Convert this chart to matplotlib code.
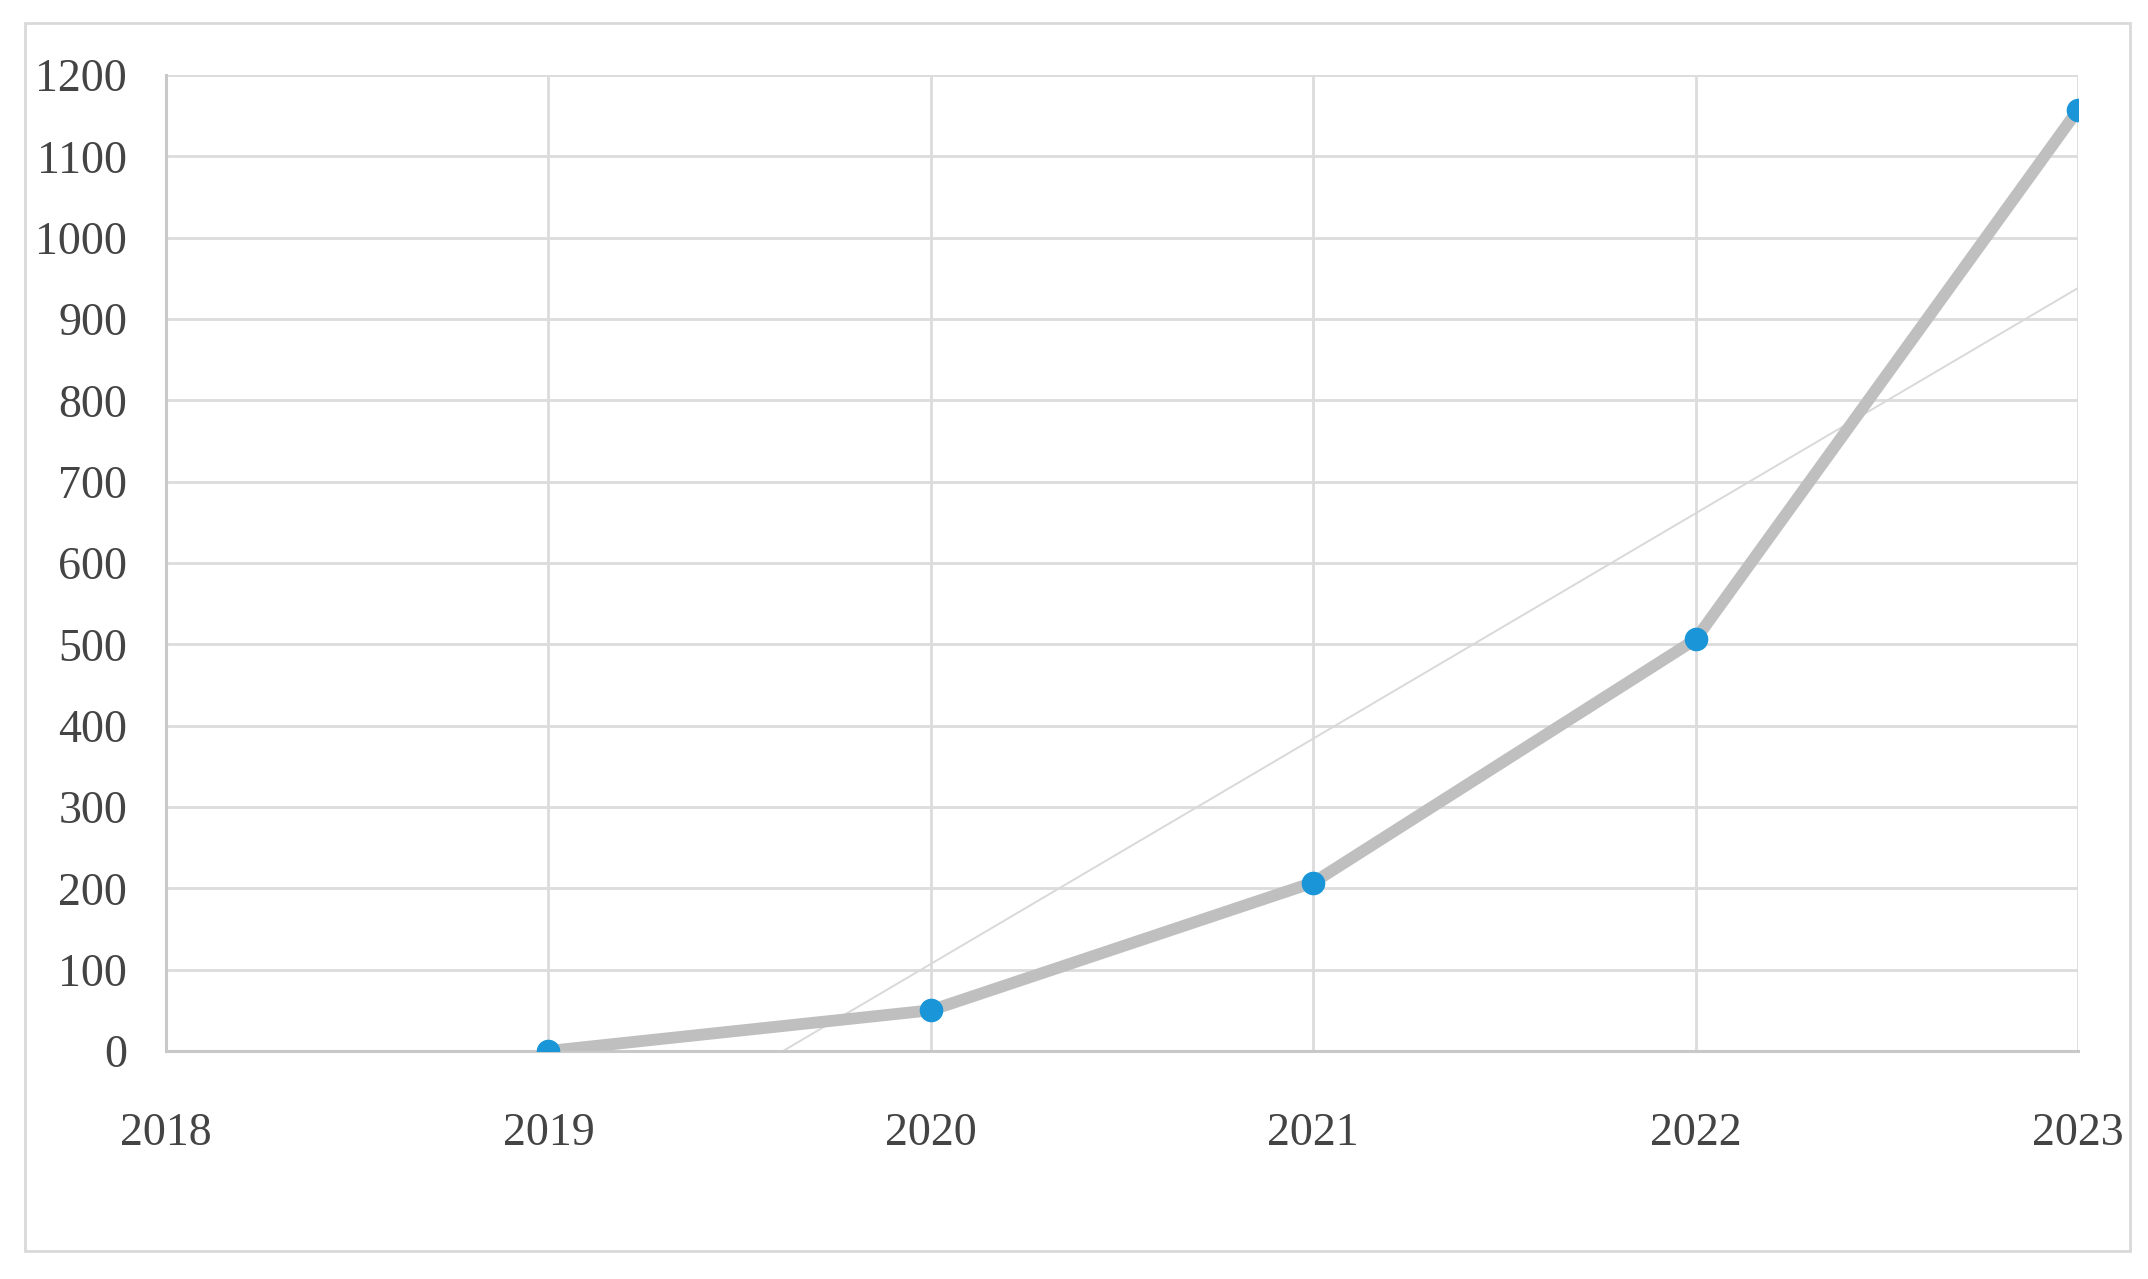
import numpy as np
from matplotlib import pyplot as plt
from matplotlib.patches import Rectangle

years = [2019, 2020, 2021, 2022, 2023]
values = [0, 50, 207, 506, 1157]
x_ticks = [2018, 2019, 2020, 2021, 2022, 2023]
y_ticks = list(range(0, 1300, 100))


def main():
    plt.rcParams['font.family'] = ['Liberation Serif', 'DejaVu Serif']
    fig = plt.figure(figsize=(21.48, 12.79), dpi=100)
    ax = fig.add_axes([0.0773, 0.1783, 0.8901, 0.7631])

    # outer chart border
    fig.patches.append(Rectangle((0.0116, 0.022), 0.9798, 0.960, transform=fig.transFigure,
                                 fill=False, edgecolor='#d9d9d9', linewidth=2))

    # linear trend line, starts where it crosses zero
    k, b = np.polyfit(years, values, 1)
    x0 = -b / k
    tx = np.array([x0, years[-1]])
    ax.plot(tx, k * tx + b, color='#d9d9d9', linewidth=1.4, zorder=2)

    ax.plot(years, values, color='#bfbfbf', linewidth=8.5, solid_capstyle='round', zorder=3)
    ax.plot(years, values, 'o', color='#1a96d8', markersize=16, zorder=4)

    ax.set_xlim(2018, 2023)
    ax.set_ylim(0, 1200)
    ax.set_xticks(x_ticks)
    ax.set_yticks(y_ticks)
    ax.grid(True, color='#dcdcdc', linewidth=2)
    ax.set_axisbelow(True)
    for s in ['top', 'right']:
        ax.spines[s].set_visible(False)
    for s in ['left', 'bottom']:
        ax.spines[s].set_color('#c8c8c8')
        ax.spines[s].set_linewidth(2.2)
    ax.tick_params(axis='y', length=0, pad=28, labelsize=33, labelcolor='#444444')
    ax.tick_params(axis='x', length=0, pad=44, labelsize=33, labelcolor='#444444')

    fig.savefig('out.png', dpi=100)


if __name__ == '__main__':
    main()
